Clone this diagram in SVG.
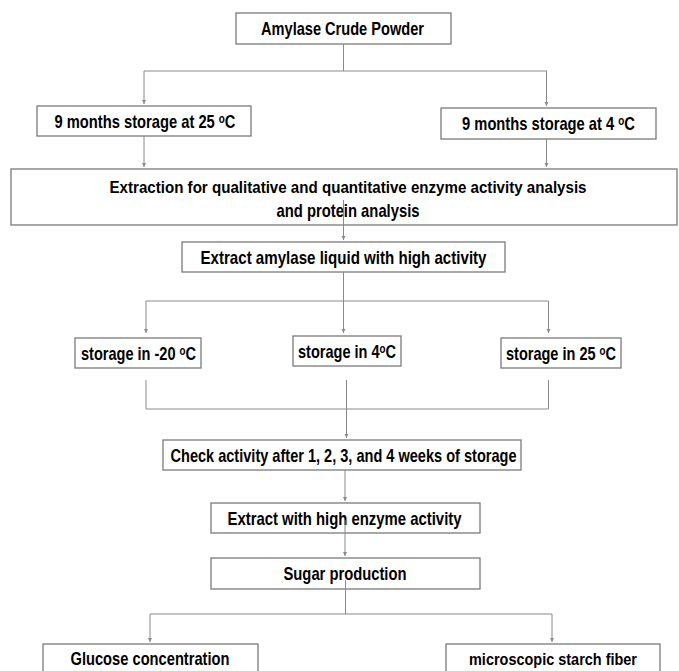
<svg xmlns="http://www.w3.org/2000/svg" width="679" height="671" viewBox="0 0 679 671">
<style>
rect.box{fill:#fff;stroke:#7a7a7a;stroke-width:1.3}
text{font-family:"Liberation Sans","DejaVu Sans",Arial,sans-serif;font-weight:bold;font-size:18.5px;fill:#000;text-anchor:middle}
text.sm{font-size:16.5px}
text.sm2{font-size:17px}
.c line,.c path{stroke:#8a8a8a;stroke-width:1;fill:none}
</style>
<defs>
<marker id="ah" markerUnits="userSpaceOnUse" markerWidth="5" markerHeight="5" refX="4" refY="2.5" orient="auto">
<path d="M0,0.5 L4,2.5 L0,4.5 z" fill="#8a8a8a"/>
</marker>
</defs>
<rect width="679" height="671" fill="#fff"/>
<g id="n1"><rect class="box" x="236" y="13" width="215" height="31"/><text x="342.5" y="35" textLength="163" lengthAdjust="spacingAndGlyphs">Amylase Crude Powder</text></g>
<g id="n2"><rect class="box" x="37" y="106" width="214" height="30"/><text x="145" y="127.5" textLength="181" lengthAdjust="spacingAndGlyphs">9 months storage at 25 ᵒC</text></g>
<g id="n3"><rect class="box" x="441" y="108" width="215" height="31"/><text x="548.5" y="130" textLength="173" lengthAdjust="spacingAndGlyphs">9 months storage at 4 ᵒC</text></g>
<g id="n4"><rect class="box" x="11" y="169" width="666" height="56"/><text class="sm" x="348" y="193" textLength="477" lengthAdjust="spacingAndGlyphs">Extraction for qualitative and quantitative enzyme activity  analysis</text><text x="348" y="217" textLength="143" lengthAdjust="spacingAndGlyphs">and protein analysis</text></g>
<g id="n5"><rect class="box" x="182" y="242" width="323" height="30"/><text x="343.5" y="263.5" textLength="286" lengthAdjust="spacingAndGlyphs">Extract amylase  liquid with high activity</text></g>
<g id="n6"><rect class="box" x="75" y="338" width="126" height="30"/><text x="138.5" y="359.5" textLength="115" lengthAdjust="spacingAndGlyphs">storage in -20 ᵒC</text></g>
<g id="n7"><rect class="box" x="293" y="336" width="108" height="30"/><text x="347" y="357.5" textLength="98" lengthAdjust="spacingAndGlyphs">storage in 4ᵒC</text></g>
<g id="n8"><rect class="box" x="501" y="338" width="120" height="30"/><text x="561" y="359.5" textLength="110" lengthAdjust="spacingAndGlyphs">storage in 25 ᵒC</text></g>
<g id="n9"><rect class="box" x="163" y="440" width="358" height="30"/><text x="343.5" y="461.5" textLength="346" lengthAdjust="spacingAndGlyphs">Check activity after 1, 2, 3, and 4 weeks of storage</text></g>
<g id="n10"><rect class="box" x="211" y="503" width="269" height="30"/><text x="344.5" y="524.5" textLength="234" lengthAdjust="spacingAndGlyphs">Extract with high enzyme activity</text></g>
<g id="n11"><rect class="box" x="211" y="558" width="269" height="31"/><text x="345" y="580" textLength="123" lengthAdjust="spacingAndGlyphs">Sugar production</text></g>
<g id="n12"><rect class="box" x="43" y="644" width="215" height="50"/><text x="150" y="665" textLength="159" lengthAdjust="spacingAndGlyphs">Glucose concentration</text></g>
<g id="n13"><rect class="box" x="446" y="644" width="214" height="50"/><text class="sm2" x="553" y="665" textLength="168" lengthAdjust="spacingAndGlyphs">microscopic starch fiber</text></g>
<g id="connectors" class="c">
<path d="M343.5,44 V71 M144,71 H547"/>
<line x1="144" y1="71" x2="144" y2="104" marker-end="url(#ah)"/>
<line x1="546.5" y1="71" x2="546.5" y2="106" marker-end="url(#ah)"/>
<line x1="144" y1="136" x2="144" y2="167" marker-end="url(#ah)"/>
<line x1="546.5" y1="139" x2="546.5" y2="167" marker-end="url(#ah)"/>
<line x1="343.5" y1="200" x2="343.5" y2="240" marker-end="url(#ah)"/>
<path d="M343.5,272 V301 M146,301 H548.5"/>
<line x1="146" y1="301" x2="146" y2="333" marker-end="url(#ah)"/>
<line x1="343.5" y1="301" x2="343.5" y2="333" marker-end="url(#ah)"/>
<line x1="548.5" y1="301" x2="548.5" y2="333" marker-end="url(#ah)"/>
<path d="M146,380 V409 H548.5 V380"/>
<line x1="346.5" y1="380" x2="346.5" y2="438" marker-end="url(#ah)"/>
<line x1="345" y1="470" x2="345" y2="501" marker-end="url(#ah)"/>
<line x1="345" y1="520" x2="345" y2="556" marker-end="url(#ah)"/>
<path d="M345.5,580 V614 M150,614 H552"/>
<line x1="150" y1="614" x2="150" y2="642" marker-end="url(#ah)"/>
<line x1="552" y1="614" x2="552" y2="642" marker-end="url(#ah)"/>
</g>
</svg>
